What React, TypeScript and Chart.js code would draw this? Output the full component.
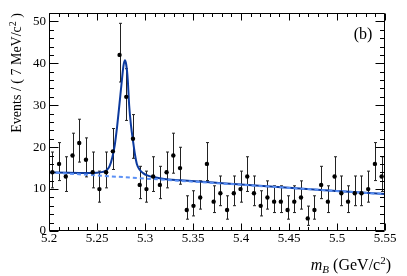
import { useEffect, useRef } from 'react';
import { Chart, registerables } from 'chart.js';

Chart.register(...registerables);

// ---- data ----
const binCenters = [
  5.2035, 5.2105, 5.2175, 5.2245, 5.2315, 5.2385, 5.2455, 5.2525, 5.2595, 5.2665,
  5.2735, 5.2805, 5.2875, 5.2945, 5.3015, 5.3085, 5.3155, 5.3225, 5.3295, 5.3365,
  5.3435, 5.3505, 5.3575, 5.3645, 5.3715, 5.3785, 5.3855, 5.3925, 5.3995, 5.4065,
  5.4135, 5.4205, 5.4275, 5.4345, 5.4415, 5.4485, 5.4555, 5.4625, 5.4695, 5.4765,
  5.4835, 5.4905, 5.4975, 5.5045, 5.5115, 5.5185, 5.5255, 5.5325, 5.5395, 5.5465,
];
const counts = [
  14, 16, 13, 18, 21, 17, 14, 10, 14, 19,
  42, 32, 22, 11, 10, 13, 11, 14, 18, 15,
  5, 6, 8, 16, 7, 9, 5, 9, 10, 13,
  9, 6, 8, 7, 7, 5, 7, 8, 3, 5,
  11, 7, 13, 9, 7, 9, 9, 10, 16, 13,
];
const errLow = [
  3.71, 3.97, 3.57, 4.21, 4.56, 4.09, 3.71, 3.12, 3.71, 4.33,
  6.46, 5.63, 4.66, 3.28, 3.12, 3.57, 3.28, 3.71, 4.21, 3.84,
  2.18, 2.40, 2.78, 3.97, 2.60, 2.96, 2.18, 2.96, 3.12, 3.57,
  2.96, 2.40, 2.78, 2.60, 2.60, 2.18, 2.60, 2.78, 1.66, 2.18,
  3.28, 2.60, 3.57, 2.96, 2.60, 2.96, 2.96, 3.12, 3.97, 3.57,
];
const errHigh = [
  4.84, 5.09, 4.71, 5.33, 5.66, 5.21, 4.84, 4.28, 4.84, 5.44,
  7.54, 6.72, 5.77, 4.43, 4.28, 4.71, 4.43, 4.84, 5.33, 4.97,
  3.40, 3.60, 3.96, 5.09, 3.78, 4.12, 3.40, 4.12, 4.28, 4.71,
  4.12, 3.60, 3.96, 3.78, 3.78, 3.40, 3.78, 3.96, 2.94, 3.40,
  4.43, 3.78, 4.71, 4.12, 3.78, 4.12, 4.12, 4.28, 5.09, 4.71,
];
const fitX = [
  5.2, 5.22, 5.24, 5.25, 5.256, 5.26, 5.263, 5.266, 5.2685, 5.271,
  5.2735, 5.2755, 5.2775, 5.279, 5.2805, 5.282, 5.2835, 5.2855, 5.2875, 5.2895,
  5.2915, 5.2945, 5.298, 5.303, 5.31, 5.32, 5.337, 5.377, 5.45, 5.5, 5.55,
];
const fitY = [
  14.0, 13.9, 13.85, 13.9, 14.1, 14.5, 15.4, 17.6, 20.5, 25.0,
  30.5, 35.0, 39.3, 40.7, 39.6, 36.2, 30.0, 25.0, 21.5, 18.3,
  16.0, 14.6, 13.8, 13.2, 12.8, 12.4, 12.1, 11.45, 10.3, 9.55, 8.8,
];
const bkgX = [5.2, 5.55];
const bkgY = [14.0, 8.8];
const xTickValues = [5.2, 5.25, 5.3, 5.35, 5.4, 5.45, 5.5, 5.55];
const xTickLabels = ['5.2', '5.25', '5.3', '5.35', '5.4', '5.45', '5.5', '5.55'];
const yTickValues = [0, 10, 20, 30, 40, 50];
const yTickLabels = ['0', '10', '20', '30', '40', '50'];

const SERIF = "'Liberation Serif', 'DejaVu Serif', serif";

const errorBarPlugin = {
  id: 'errorBars',
  beforeDatasetsDraw(chart: any) {
    const { ctx, scales, chartArea } = chart;
    const xs = scales.x;
    const ys = scales.y;
    ctx.save();
    ctx.beginPath();
    ctx.rect(chartArea.left, chartArea.top, chartArea.right - chartArea.left, chartArea.bottom - chartArea.top);
    ctx.clip();
    ctx.strokeStyle = '#222';
    ctx.lineWidth = 1;
    for (let i = 0; i < counts.length; i++) {
      const px = Math.round(xs.getPixelForValue(binCenters[i])) + 0.5;
      const yTop = ys.getPixelForValue(counts[i] + errHigh[i]);
      const yBot = ys.getPixelForValue(counts[i] - errLow[i]);
      ctx.beginPath();
      ctx.moveTo(px, yTop);
      ctx.lineTo(px, yBot);
      ctx.moveTo(px - 1.5, yTop);
      ctx.lineTo(px + 1.5, yTop);
      ctx.moveTo(px - 1.5, yBot);
      ctx.lineTo(px + 1.5, yBot);
      ctx.stroke();
    }
    ctx.restore();
  },
};

const framePlugin = {
  id: 'rootFrame',
  afterDraw(chart: any) {
    const { ctx, scales, chartArea } = chart;
    const xs = scales.x;
    const ys = scales.y;
    const L = Math.round(chartArea.left) + 0.5;
    const R = Math.round(chartArea.right) - 0.5;
    const T = Math.round(chartArea.top) + 0.5;
    const B = Math.round(chartArea.bottom) - 0.5;
    ctx.save();
    ctx.strokeStyle = '#000';
    ctx.lineWidth = 1;
    ctx.beginPath();
    ctx.rect(L, T, R - L, B - T);
    ctx.stroke();
    // x ticks (major every 0.05, minor every 0.01)
    ctx.beginPath();
    for (let k = 0; k <= 35; k++) {
      const v = 5.2 + k * 0.01;
      const px = Math.round(xs.getPixelForValue(v)) + 0.5;
      const len = k % 5 === 0 ? 7 : 3.5;
      ctx.moveTo(px, B);
      ctx.lineTo(px, B - len);
      ctx.moveTo(px, T);
      ctx.lineTo(px, T + len);
    }
    // y ticks (major every 10, minor every 2)
    for (let v = 0; v <= 52; v += 2) {
      const py = Math.round(ys.getPixelForValue(v)) + 0.5;
      const len = v % 10 === 0 ? 9 : 4.5;
      ctx.moveTo(L, py);
      ctx.lineTo(L + len, py);
      ctx.moveTo(R, py);
      ctx.lineTo(R - len, py);
    }
    ctx.stroke();

    ctx.fillStyle = '#000';
    // y title
    ctx.save();
    ctx.translate(21, 13);
    ctx.rotate(-Math.PI / 2);
    ctx.textAlign = 'left';
    ctx.textBaseline = 'alphabetic';
    const big = `14px ${SERIF}`;
    const small = `10px ${SERIF}`;
    const p1 = 'Events / ( 7 MeV/c';
    const p2 = '2';
    const p3 = ' )';
    ctx.font = big;
    const w1 = ctx.measureText(p1).width;
    const w3 = ctx.measureText(p3).width;
    ctx.font = small;
    const w2 = ctx.measureText(p2).width;
    let sx = -(w1 + w2 + w3);
    ctx.font = big;
    ctx.fillText(p1, sx, 0);
    sx += w1;
    ctx.font = small;
    ctx.fillText(p2, sx, -5);
    sx += w2;
    ctx.font = big;
    ctx.fillText(p3, sx, 0);
    ctx.restore();

    // x title: m_B (GeV/c^2)
    ctx.save();
    ctx.textAlign = 'left';
    ctx.textBaseline = 'alphabetic';
    const xb = `16px ${SERIF}`;
    const xi = `italic 16px ${SERIF}`;
    const xsI = `italic 11px ${SERIF}`;
    const xs2 = `11px ${SERIF}`;
    const parts: [string, string, number][] = [
      ['m', xi, 0],
      ['B', xsI, 3],
      [' (GeV/c', xb, 0],
      ['2', xs2, -6],
      [')', xb, 0],
    ];
    let total = 0;
    const widths = parts.map(([t, f]) => {
      ctx.font = f;
      const w = ctx.measureText(t).width;
      total += w;
      return w;
    });
    let cx = 391 - total;
    parts.forEach(([t, f, dy], i) => {
      ctx.font = f;
      ctx.fillText(t, cx, 270 + dy);
      cx += widths[i];
    });
    ctx.restore();

    // panel label
    ctx.font = `16px ${SERIF}`;
    ctx.textAlign = 'center';
    ctx.textBaseline = 'alphabetic';
    ctx.fillText('(b)', 363, 39);
    ctx.restore();
  },
};

export default function App() {
  const canvasRef = useRef<HTMLCanvasElement | null>(null);

  useEffect(() => {
    if (!canvasRef.current) return;
    const chart = new Chart(canvasRef.current, {
      type: 'line',
      data: {
        datasets: [
          {
            label: 'data',
            data: binCenters.map((x, i) => ({ x, y: counts[i] })),
            showLine: false,
            pointRadius: 2.2,
            pointBackgroundColor: '#000',
            pointBorderColor: '#000',
            pointBorderWidth: 0,
            order: 0,
          },
          {
            label: 'background',
            data: bkgX.map((x, i) => ({ x, y: bkgY[i] })),
            borderColor: '#5b90f5',
            borderWidth: 2,
            borderDash: [4, 3],
            pointRadius: 0,
            fill: false,
            order: 1,
          },
          {
            label: 'fit',
            data: fitX.map((x, i) => ({ x, y: fitY[i] })),
            borderColor: '#0c3a9e',
            borderWidth: 2,
            pointRadius: 0,
            fill: false,
            cubicInterpolationMode: 'monotone',
            order: 2,
          },
        ],
      },
      options: {
        animation: false,
        responsive: false,
        devicePixelRatio: 1,
        layout: { padding: { left: 0, right: 22, top: 13, bottom: 0 } },
        plugins: { legend: { display: false }, tooltip: { enabled: false } },
        scales: {
          x: {
            type: 'linear',
            min: 5.2,
            max: 5.55,
            grid: { display: false, drawTicks: false },
            border: { display: false },
            afterFit: (s: any) => {
              s.height = 45;
            },
            afterBuildTicks: (s: any) => {
              s.ticks = xTickValues.map((value) => ({ value }));
            },
            ticks: {
              autoSkip: false,
              maxRotation: 0,
              padding: 0,
              color: '#000',
              font: { family: SERIF, size: 13 },
              callback: (_v: any, i: number) => xTickLabels[i],
            },
          },
          y: {
            type: 'linear',
            min: 0,
            max: 52,
            grid: { display: false, drawTicks: false },
            border: { display: false },
            afterFit: (s: any) => {
              s.width = 49;
            },
            afterBuildTicks: (s: any) => {
              s.ticks = yTickValues.map((value) => ({ value }));
            },
            ticks: {
              autoSkip: false,
              padding: 3,
              color: '#000',
              font: { family: SERIF, size: 13 },
              callback: (_v: any, i: number) => yTickLabels[i],
            },
          },
        },
      },
      plugins: [errorBarPlugin, framePlugin],
    } as any);
    return () => chart.destroy();
  }, []);

  return (
    <div style={{ position: 'absolute', left: 0, top: 0, width: 407, height: 276, background: '#fff' }}>
      <canvas ref={canvasRef} width={407} height={276} style={{ display: 'block' }} />
    </div>
  );
}
